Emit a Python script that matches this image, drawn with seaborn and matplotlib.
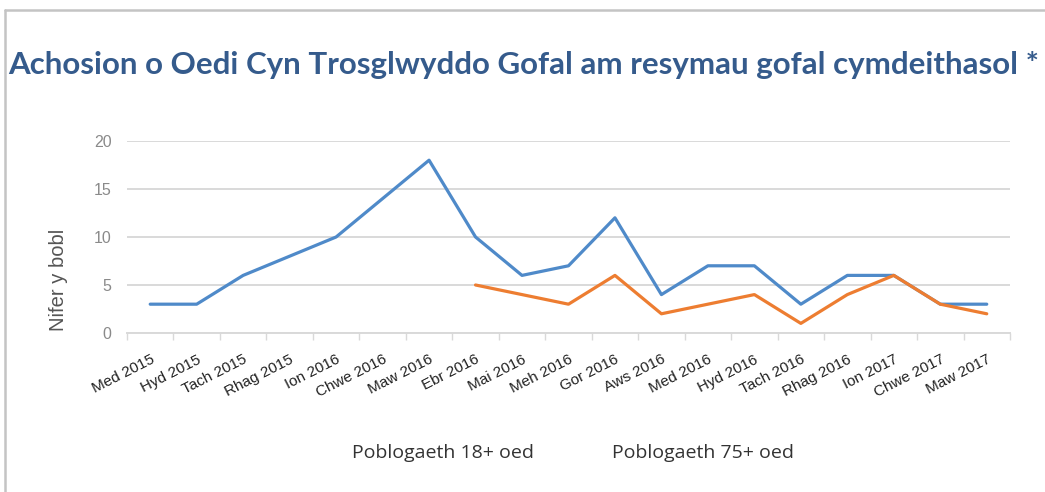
import pandas as pd
import seaborn as sns
import matplotlib.pyplot as plt
from matplotlib.lines import Line2D

months = ["Med 2015", "Hyd 2015", "Tach 2015", "Rhag 2015", "Ion 2016", "Chwe 2016",
          "Maw 2016", "Ebr 2016", "Mai 2016", "Meh 2016", "Gor 2016", "Aws 2016",
          "Med 2016", "Hyd 2016", "Tach 2016", "Rhag 2016", "Ion 2017", "Chwe 2017",
          "Maw 2017"]
pop_18 = [3, 3, 6, 8, 10, 14, 18, 10, 6, 7, 12, 4, 7, 7, 3, 6, 6, 3, 3]
months_75 = months[7:]
pop_75 = [5, 4, 3, 6, 2, 3, 4, 1, 4, 6, 3, 2]
yticks = [0, 5, 10, 15, 20]

label_18 = "Poblogaeth 18+ oed"
label_75 = "Poblogaeth 75+ oed"
title = "Achosion o Oedi Cyn Trosglwyddo Gofal am resymau gofal cymdeithasol *"

sns.set_theme(style="white")
plt.rcParams["font.family"] = ["Liberation Sans", "DejaVu Sans"]

fig = plt.figure(figsize=(10.45, 4.92), dpi=100)
ax = fig.add_axes([0.1215, 0.3232, 0.845, 0.3902])

sns.lineplot(x=months, y=pop_18, ax=ax, color="#4f8ac9", linewidth=2.3, label=label_18)
sns.lineplot(x=months_75, y=pop_75, ax=ax, color="#ed7d31", linewidth=2.3, label=label_75)

ax.set_xlim(-0.5, len(months) - 0.5)
ax.set_ylim(0, 20)
ax.set_yticks(yticks)
ax.set_yticklabels([str(v) for v in yticks], color="#8a8a8a", fontsize=11.5)
ax.yaxis.grid(True, color="#d9d9d9", linewidth=1.4)
ax.set_axisbelow(True)
for s in ["top", "right", "left"]:
    ax.spines[s].set_visible(False)
ax.spines["bottom"].set_color("#d9d9d9")
ax.spines["bottom"].set_linewidth(1.4)

ax.set_xticks(range(len(months)))
ax.set_xticklabels(months, rotation=27, ha="right", rotation_mode="anchor",
                   fontsize=11, color="#222222")
ax.set_xticks([i - 0.5 for i in range(len(months) + 1)], minor=True)
ax.tick_params(axis="x", which="major", length=0, pad=14)
ax.tick_params(axis="x", which="minor", length=5, color="#d9d9d9", width=1, bottom=True)
ax.tick_params(axis="y", length=0, pad=11)

ax.set_xlabel("")
ax.set_ylabel("Nifer y bobl", fontsize=14.5, color="#555555", va="center")
ax.yaxis.set_label_coords(-0.077, 0.276)

leg = ax.legend(loc="center", bbox_to_anchor=(0.548, 0.079), bbox_transform=fig.transFigure,
                ncol=2, frameon=False, handlelength=0, handletextpad=0, columnspacing=4.0,
                prop={"family": "Open Sans", "size": 14})
for h in leg.legend_handles:
    h.set_visible(False)
for t in leg.get_texts():
    t.set_color("#333333")

fig.text(0.008, 0.867, title, fontsize=22.5, fontweight="bold", color="#355b8c",
         family="Lato", va="center", ha="left")

fig.add_artist(Line2D([0.005, 1.0], [0.979, 0.979], transform=fig.transFigure,
                      color="#c4c4c4", linewidth=1.8))
fig.add_artist(Line2D([0.005, 0.005], [0.0, 0.979], transform=fig.transFigure,
                      color="#c4c4c4", linewidth=1.8))

fig.savefig("out.png", dpi=100, facecolor="white")
